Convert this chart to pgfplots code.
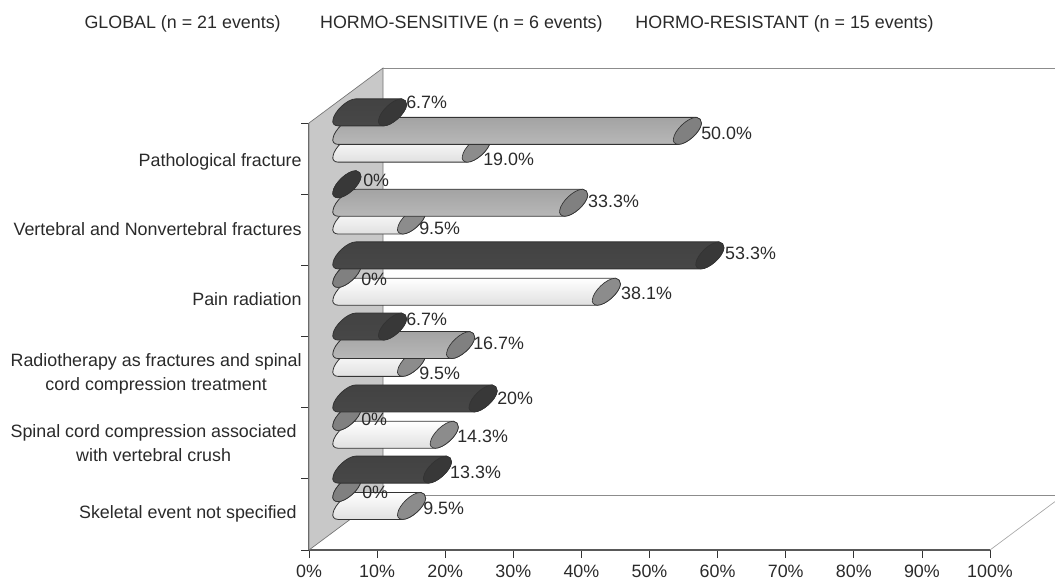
\documentclass[border=0pt]{standalone}
\usepackage{fontspec}
\setmainfont{Liberation Sans}
\usepackage{pgfplots}
\usepackage{pgfplotstable}
\pgfplotsset{compat=1.18}
\definecolor{wall}{HTML}{C8C8C8}
\definecolor{txt}{HTML}{2A2A2A}
\definecolor{edge}{HTML}{333333}
\pgfdeclareplotmark{nil}{}
% v = percent, y = position, dec = decimals shown, dx,dy = label offset in px
\pgfplotstableread{
v y dec dx dy
9.5 0.43 1 49.3 11.4
14.3 1.43 1 50.6 12.2
9.5 2.44 1 45.3 3.3
38.1 3.44 1 52.5 12.2
9.5 4.44 1 45.3 6
19.0 5.45 1 44.6 3.1
}\whitebars
\pgfplotstableread{
v y dec dx dy
0 0.68 0 53 9.6
0 1.68 0 52 11.4
16.7 2.69 1 50.3 15.6
0 3.69 0 52 8.4
33.3 4.69 1 52.2 14.5
50.0 5.70 1 51.5 11.3
}\graybars
\pgfplotstableread{
v y dec dx dy
13.3 0.94 1 50.4 11
20 1.94 0 51.8 14
6.7 2.95 1 51.4 21
53.3 3.95 1 53 16
0 4.95 0 54 17.7
6.7 5.96 1 51.4 23.8
}\darkbars
\newcommand\cyl[4]{%
  \begin{scope}[x=0.75pt,y=0.75pt]
    \pgfmathsetmacro\AA{29-\vv*6.81}
    \def\RR{29}
    \shade[top color=#1,middle color=#2,bottom color=#3,draw=edge,line width=.6pt]
      (\AA,0) .. controls (\AA-4,0) and (\AA-6,3) .. (\AA-5,6)
      .. controls (\AA-4,14) and (\AA+9,27) .. (\AA+18,27)
      -- (\RR+18,27) .. controls (\RR+21,27) and (\RR+23,24) .. (\RR+23,21)
      .. controls (\RR+22,12) and (\RR+8,0) .. (\RR,0) -- cycle;
    \filldraw[fill=#4,draw=edge,line width=.5pt]
      (\RR,0) .. controls (\RR-4,0) and (\RR-6,3) .. (\RR-5,6)
      .. controls (\RR-4,14) and (\RR+9,27) .. (\RR+18,27)
      .. controls (\RR+21,27) and (\RR+23,24) .. (\RR+23,21)
      .. controls (\RR+22,12) and (\RR+8,0) .. (\RR,0) -- cycle;
  \end{scope}}
\pgfplotsset{
  cylbars/.style n args={4}{
    only marks, scatter, mark=nil, forget plot,
    point meta=x,
    visualization depends on={\thisrow{v} \as \vv},
    scatter/@pre marker code/.code={\cyl{#1}{#2}{#3}{#4}},
    scatter/@post marker code/.code={},
  },
  barlabels/.style={
    only marks, mark=none, forget plot, point meta=x,
    visualization depends on={\thisrow{v} \as \vv},
    visualization depends on={\thisrow{dec} \as \dec},
    visualization depends on={\thisrow{dx} \as \ldx},
    visualization depends on={\thisrow{dy} \as \ldy},
    nodes near coords={\pgfmathtruncatemacro\dd{\dec}\pgfmathprintnumber[fixed,fixed zerofill,precision=\dd,assume math mode=true]{\vv}\%},
    every node near coord/.append style={
      anchor=west, inner sep=0pt, text=txt,
      xshift=\ldx*0.75pt, yshift=\ldy*0.75pt},
  }
}
\begin{document}
\begin{tikzpicture}
\useasboundingbox (-231.75pt,-24pt) rectangle (559.5pt,412.5pt);
\begin{axis}[
  scale only axis, width=510.75pt, height=320.25pt,
  xmin=0, xmax=100, ymin=0, ymax=6, clip=false,
  axis x line*=bottom, axis y line*=left,
  axis line style={-,color=black!65,line width=.8pt},
  tick align=outside, major tick length=6pt,
  tick style={color=black!80,line width=.6pt},
  xtick={0,10,...,100},
  xticklabels={0\%,10\%,20\%,30\%,40\%,50\%,60\%,70\%,80\%,90\%,100\%},
  xticklabel style={yshift=-2pt},
  ytick={0,1,...,6}, yticklabels={},
  extra y ticks={0.506,1.50,2.47,3.53,4.51,5.45},
  extra y tick labels={Skeletal event not specified\hspace*{3.75pt},
    {Spinal cord compression associated\hspace*{3.75pt}\\with vertebral crush\hspace*{3.75pt}},
    {Radiotherapy as fractures and spinal\\cord compression treatment},
    Pain radiation,Vertebral and Nonvertebral fractures,Pathological fracture},
  extra y tick style={major tick length=0pt,
    tick label style={align=center,text=txt,xshift=-2pt}},
  tick label style={text=txt},
  every tick label/.append style={font=\fontsize{13.4}{18}\selectfont},
  nodes near coords style={font=\fontsize{13.4}{18}\selectfont},
]
\addplot[fill=wall,draw=black!55,line width=.5pt,forget plot]
  coordinates {(0,0)(10.87,0.773)(10.87,6.773)(0,6)(0,0)};
\addplot[draw=black!45,line width=.7pt,forget plot]
  coordinates {(10.87,6.773)(109.54,6.773)};
\addplot[draw=black!45,line width=.7pt,forget plot]
  coordinates {(10.87,0.773)(109.54,0.773)};
\addplot[draw=black!35,line width=.5pt,forget plot]
  coordinates {(100,0)(109.54,0.68)};
\addplot[cylbars={white}{white}{black!12}{black!45}] table[x=v,y=y] {\whitebars};
\addplot[cylbars={black!36}{black!18}{black!28}{black!50}] table[x=v,y=y] {\graybars};
\addplot[cylbars={black!74}{black!66}{black!72}{black!78}] table[x=v,y=y] {\darkbars};
\addplot[barlabels] table[x=v,y=y] {\whitebars};
\addplot[barlabels] table[x=v,y=y] {\graybars};
\addplot[barlabels] table[x=v,y=y] {\darkbars};
\node[anchor=west,inner sep=0pt,text=txt,font=\fontsize{13.4}{14}\selectfont] at (axis cs:-33.0,7.39) {GLOBAL (n = 21 events)};
\node[anchor=west,inner sep=0pt,text=txt,font=\fontsize{13.4}{14}\selectfont] at (axis cs:1.6,7.39) {HORMO-SENSITIVE (n = 6 events)};
\node[anchor=west,inner sep=0pt,text=txt,font=\fontsize{13.4}{14}\selectfont] at (axis cs:47.9,7.39) {HORMO-RESISTANT (n = 15 events)};
\end{axis}
\end{tikzpicture}
\end{document}
